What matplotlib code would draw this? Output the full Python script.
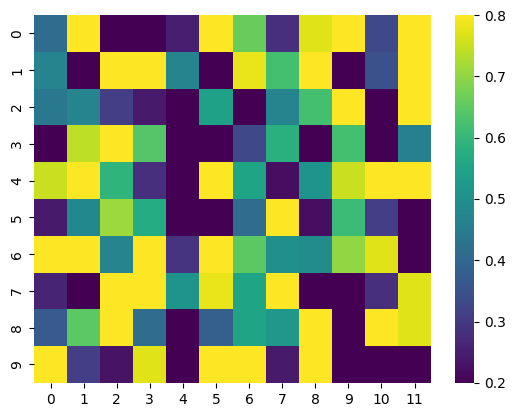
import matplotlib
matplotlib.use("Agg")
import matplotlib.pyplot as plt
import numpy as np
import seaborn as sns

# values (cells outside 0.2..0.8 are clipped in the picture)
row0 = [0.41, 0.85, 0.15, 0.15, 0.25, 0.85, 0.66, 0.28, 0.77, 0.85, 0.33, 0.85]
row1 = [0.47, 0.15, 0.85, 0.85, 0.47, 0.15, 0.78, 0.62, 0.85, 0.15, 0.35, 0.85]
row2 = [0.44, 0.47, 0.31, 0.24, 0.15, 0.54, 0.15, 0.47, 0.62, 0.85, 0.15, 0.85]
row3 = [0.15, 0.74, 0.85, 0.64, 0.15, 0.15, 0.33, 0.58, 0.15, 0.62, 0.15, 0.46]
row4 = [0.75, 0.85, 0.59, 0.28, 0.15, 0.85, 0.55, 0.22, 0.51, 0.75, 0.85, 0.85]
row5 = [0.24, 0.48, 0.71, 0.57, 0.15, 0.15, 0.41, 0.85, 0.22, 0.61, 0.31, 0.15]
row6 = [0.85, 0.85, 0.47, 0.85, 0.29, 0.85, 0.65, 0.50, 0.49, 0.70, 0.77, 0.15]
row7 = [0.26, 0.15, 0.85, 0.85, 0.51, 0.78, 0.55, 0.85, 0.15, 0.15, 0.28, 0.77]
row8 = [0.37, 0.65, 0.85, 0.41, 0.15, 0.38, 0.55, 0.52, 0.85, 0.15, 0.85, 0.77]
row9 = [0.85, 0.31, 0.23, 0.77, 0.15, 0.85, 0.85, 0.24, 0.85, 0.15, 0.15, 0.15]

data = np.array([row0, row1, row2, row3, row4, row5, row6, row7, row8, row9])

fig = plt.figure(figsize=(5.15, 4.18), dpi=100)
ax = fig.add_axes([0.066, 0.084, 0.771, 0.880])
cax = fig.add_axes([0.8835, 0.084, 0.037, 0.880])

sns.heatmap(data, vmin=0.2, vmax=0.8, cmap='viridis', ax=ax, cbar_ax=cax)

fig.savefig('out.png', dpi=100)
